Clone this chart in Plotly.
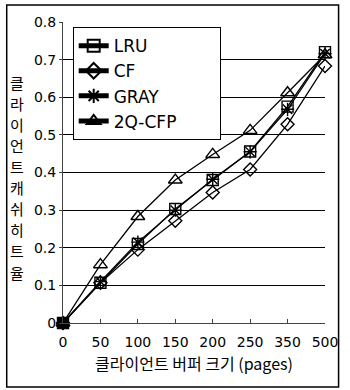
import plotly.graph_objects as go

categories = ["0", "50", "100", "150", "200", "250", "350", "500"]
lru = [0, 0.107, 0.21, 0.303, 0.38, 0.456, 0.575, 0.72]
cf = [0, 0.107, 0.195, 0.272, 0.347, 0.408, 0.528, 0.683]
gray = [0, 0.11, 0.215, 0.30, 0.382, 0.455, 0.568, 0.716]
q2cfp = [0, 0.155, 0.283, 0.38, 0.448, 0.512, 0.612, 0.713]
series_names = ["LRU", "CF", "GRAY", "2Q-CFP"]
ytick_vals = [0, 0.1, 0.2, 0.3, 0.4, 0.5, 0.6, 0.7, 0.8]
ytick_text = ["0", "0.1", "0.2", "0.3", "0.4", "0.5", "0.6", "0.7", "0.8"]
x_title = "클라이언트 버퍼 크기 (pages)"
y_title_chars = list("클라이언트캐쉬히트율")

symbols = ["square-open", "diamond-open", "asterisk-open", "triangle-up-open"]
sizes = [11, 10, 11, 12]
pad = "\u00a0" * 7  # widen legend box to match reference

fig = go.Figure()
for name, vals, sym, sz in zip(series_names, [lru, cf, gray, q2cfp], symbols, sizes):
    fig.add_trace(go.Scatter(
        x=categories, y=vals, name=name + (pad if name == "2Q-CFP" else ""),
        mode="lines+markers",
        line=dict(color="black", width=1.3),
        marker=dict(symbol=sym, size=sz, color="black",
                    line=dict(color="black", width=1.4)),
        cliponaxis=False,
    ))

# overlapping markers at the origin appear as a solid block
fig.add_trace(go.Scatter(
    x=categories[:1], y=lru[:1], mode="markers", showlegend=False,
    marker=dict(symbol="square", size=12, color="black"), cliponaxis=False,
))

fig.update_layout(
    width=350, height=390,
    margin=dict(l=63, r=17, t=22, b=67),
    paper_bgcolor="white", plot_bgcolor="white",
    font=dict(family="DejaVu Sans", color="black", size=14),
    showlegend=True,
    legend=dict(x=0.037, y=0.983, xanchor="left", yanchor="top",
                bordercolor="black", borderwidth=1, bgcolor="white",
                font=dict(family="DejaVu Sans", size=17),
                tracegroupgap=0, itemsizing="constant"),
    xaxis=dict(type="category", range=[0, 7], showgrid=False,
               showline=True, linecolor="#444", linewidth=1,
               ticks="inside", ticklen=4, tickcolor="#444",
               tickfont=dict(size=14), ticklabelstandoff=6,
               title=dict(text=x_title, font=dict(family="Noto Sans CJK KR", size=16), standoff=10)),
    yaxis=dict(range=[0, 0.8], tickvals=ytick_vals, ticktext=ytick_text,
               showgrid=True, gridcolor="black", gridwidth=1,
               showline=True, linecolor="#444", linewidth=1,
               ticks="outside", ticklen=3, tickcolor="#444",
               tickfont=dict(size=14), zeroline=False),
)

n = len(y_title_chars)
for i, ch in enumerate(y_title_chars):
    py = 82 + i * (272 - 82) / (n - 1)
    fig.add_annotation(text=ch, xref="paper", yref="paper",
                       x=(16 - 63) / 270, y=(323 - py) / 301,
                       showarrow=False, xanchor="center", yanchor="middle",
                       font=dict(family="Noto Sans CJK KR", size=15, color="black"))

# outer frame
fig.add_shape(type="rect", xref="paper", yref="paper",
              x0=(5 - 63) / 270, x1=(347 - 63) / 270,
              y0=(323 - 387) / 301, y1=(323 - 5) / 301,
              line=dict(color="black", width=1.5))

fig.write_html("out.html")
